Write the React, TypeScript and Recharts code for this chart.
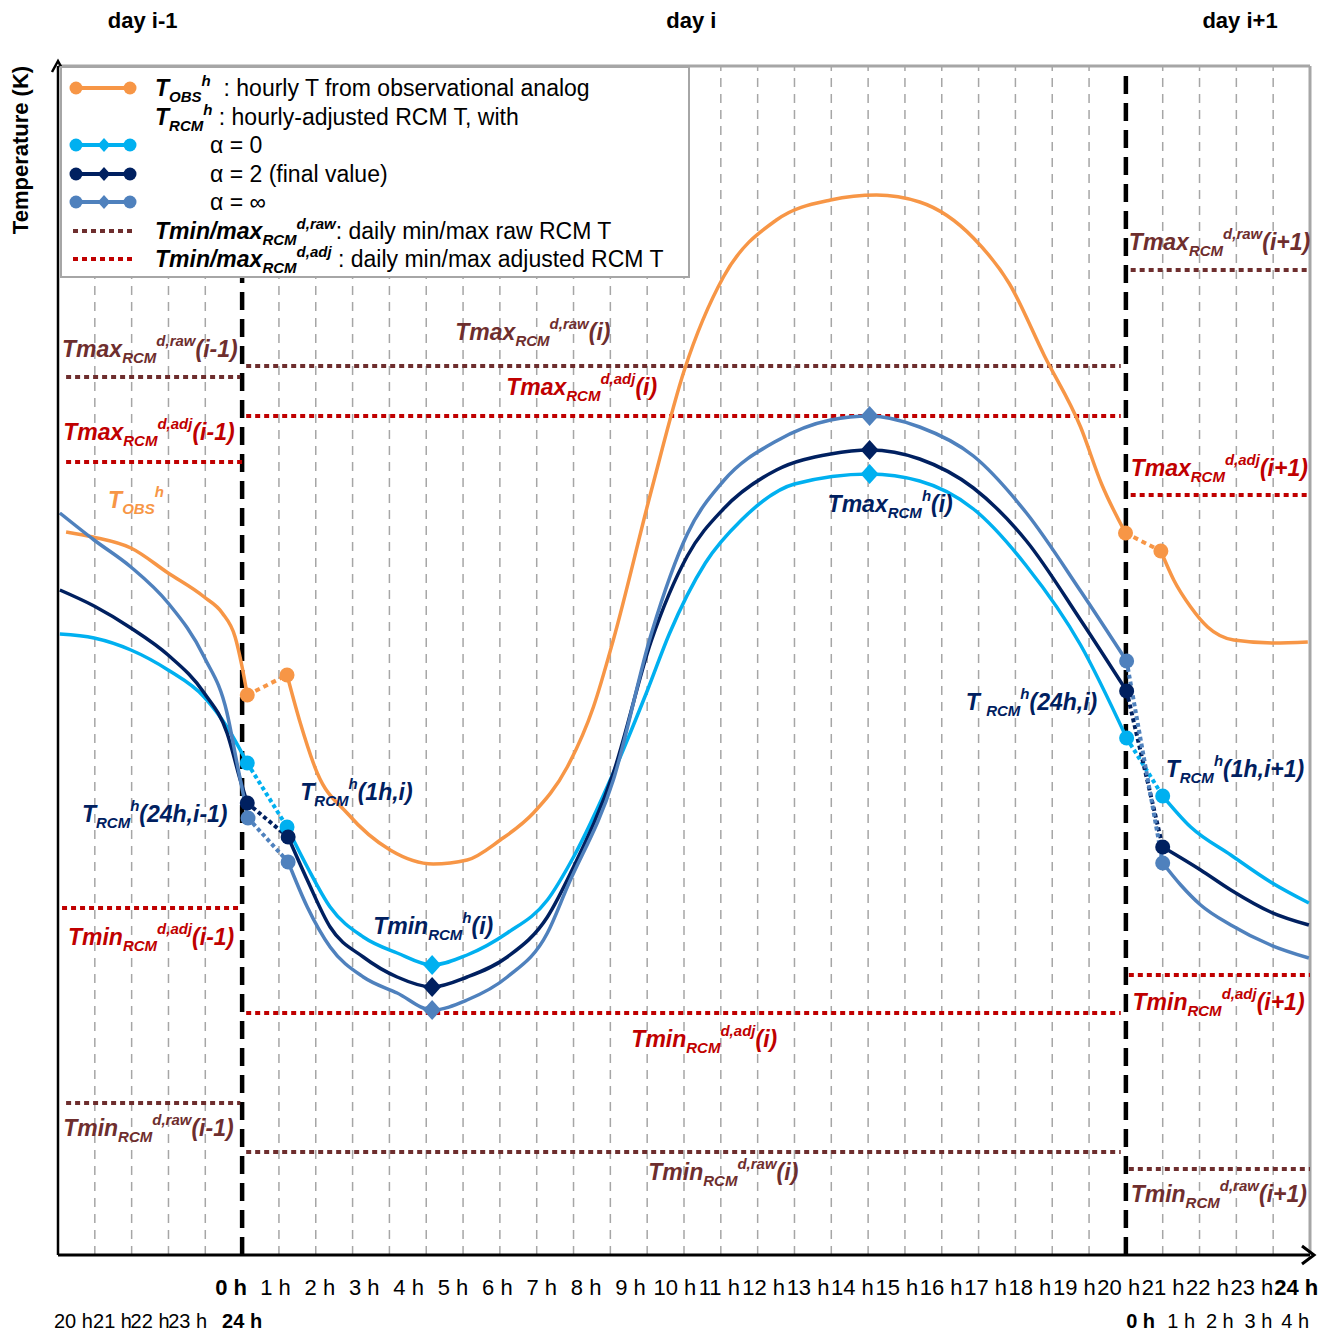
import React from "react";
import { LineChart, Line, XAxis, YAxis, ReferenceLine, ReferenceDot, Legend } from "recharts";

const FONT = "'Liberation Sans', Arial, sans-serif";
const NARROW = "'Liberation Sans Narrow', 'Arial Narrow', 'Liberation Sans', Arial, sans-serif";

const ORANGE = "#F79646";
const CYAN = "#00B0F0";
const NAVY = "#002060";
const STEEL = "#4F81BD";
const BROWN = "#6E2E2E";
const RED = "#C00000";
const GRID = "#A6A6A6";

type Pt = { h: number; v: number; m?: "c" | "d" };

// x = hour relative to 0 h of day i, y = temperature (arbitrary units)
const obsPrev: Pt[] = [
  { h: -4.78, v: 72.3 }, { h: -4.05, v: 71.8 }, { h: -3.02, v: 70.7 }, { h: -2.01, v: 68.2 },
  { h: -1.03, v: 65.8 }, { h: -0.54, v: 64.2 }, { h: -0.19, v: 61.8 }, { h: 0, v: 58.8 },
  { h: 0.14, v: 56.0, m: "c" },
];
const obsDay: Pt[] = [
  { h: 1.22, v: 58.0, m: "c" }, { h: 1.58, v: 53.2 }, { h: 2.04, v: 48.2 }, { h: 2.85, v: 44.2 },
  { h: 4.02, v: 40.5 }, { h: 5.19, v: 39.1 }, { h: 6.11, v: 39.5 }, { h: 7.01, v: 41.5 },
  { h: 7.91, v: 44.2 }, { h: 8.83, v: 48.8 }, { h: 9.54, v: 54.8 }, { h: 10.08, v: 61.5 },
  { h: 11.11, v: 76.4 }, { h: 12.01, v: 88.5 }, { h: 13.07, v: 97.8 }, { h: 14.51, v: 103.5 },
  { h: 15.98, v: 105.5 }, { h: 17.23, v: 106.0 }, { h: 18.4, v: 105.3 }, { h: 19.86, v: 101.7 },
  { h: 20.84, v: 97.1 }, { h: 21.79, v: 89.9 }, { h: 22.77, v: 82.8 }, { h: 23.34, v: 77.1 },
  { h: 23.99, v: 72.2, m: "c" },
];
const obsNext: Pt[] = [
  { h: 24.95, v: 70.4, m: "c" }, { h: 25.3, v: 67.5 }, { h: 25.76, v: 64.8 }, { h: 26.22, v: 62.8 },
  { h: 26.93, v: 61.5 }, { h: 28.02, v: 61.2 }, { h: 28.94, v: 61.3 },
];

const a0Prev: Pt[] = [
  { h: -4.95, v: 62.1 }, { h: -4.02, v: 61.7 }, { h: -3.02, v: 60.5 }, { h: -2.01, v: 58.5 },
  { h: -1.03, v: 55.8 }, { h: -0.41, v: 52.8 }, { h: 0.14, v: 49.2, m: "c" },
];
const a0Day: Pt[] = [
  { h: 1.22, v: 42.8, m: "c" }, { h: 1.77, v: 38.8 }, { h: 2.39, v: 34.8 }, { h: 3.29, v: 31.8 },
  { h: 4.21, v: 30.2 }, { h: 5.16, v: 29.0, m: "d" }, { h: 6.11, v: 30.0 }, { h: 7.2, v: 32.2 },
  { h: 8.29, v: 35.5 }, { h: 9.0, v: 39.8 }, { h: 10.08, v: 48.2 }, { h: 11.01, v: 56.5 },
  { h: 11.6, v: 62.1 }, { h: 12.58, v: 69.2 }, { h: 13.56, v: 73.5 }, { h: 15.0, v: 77.1 },
  { h: 17.04, v: 78.1, m: "d" }, { h: 18.4, v: 77.4 }, { h: 19.86, v: 74.6 }, { h: 21.3, v: 68.9 },
  { h: 22.77, v: 61.0 }, { h: 24.02, v: 51.7, m: "c" },
];
const a0Next: Pt[] = [
  { h: 25.0, v: 45.9, m: "c" }, { h: 25.76, v: 42.8 }, { h: 26.85, v: 40.0 }, { h: 27.93, v: 37.3 },
  { h: 28.97, v: 35.2 },
];

const a2Prev: Pt[] = [
  { h: -4.95, v: 66.5 }, { h: -4.02, v: 64.9 }, { h: -3.02, v: 62.7 }, { h: -2.01, v: 60.0 },
  { h: -1.03, v: 56.2 }, { h: -0.41, v: 52.2 }, { h: -0.05, v: 47.5 }, { h: 0.14, v: 45.2, m: "c" },
];
const a2Day: Pt[] = [
  { h: 1.25, v: 41.8, m: "c" }, { h: 1.77, v: 37.5 }, { h: 2.39, v: 32.8 }, { h: 3.29, v: 29.8 },
  { h: 4.21, v: 27.8 }, { h: 5.16, v: 26.8, m: "d" }, { h: 6.11, v: 27.8 }, { h: 7.2, v: 29.8 },
  { h: 8.29, v: 33.8 }, { h: 9.0, v: 38.8 }, { h: 10.08, v: 48.2 }, { h: 11.11, v: 61.4 },
  { h: 12.09, v: 69.9 }, { h: 13.07, v: 74.6 }, { h: 14.51, v: 78.5 }, { h: 15.98, v: 80.1 },
  { h: 17.04, v: 80.5, m: "d" }, { h: 18.4, v: 79.6 }, { h: 19.86, v: 76.7 }, { h: 21.3, v: 71.4 },
  { h: 22.77, v: 63.5 }, { h: 24.02, v: 56.4, m: "c" },
];
const a2Next: Pt[] = [
  { h: 25.0, v: 40.8, m: "c" }, { h: 26.03, v: 38.5 }, { h: 26.85, v: 36.5 }, { h: 27.93, v: 34.3 },
  { h: 28.97, v: 33.0 },
];

const aInfPrev: Pt[] = [
  { h: -4.95, v: 74.2 }, { h: -4.02, v: 71.5 }, { h: -3.02, v: 68.8 }, { h: -2.01, v: 65.2 },
  { h: -1.03, v: 59.8 }, { h: -0.41, v: 54.2 }, { h: -0.14, v: 49.2 }, { h: 0.16, v: 43.7, m: "c" },
];
const aInfDay: Pt[] = [
  { h: 1.25, v: 39.3, m: "c" }, { h: 1.77, v: 34.8 }, { h: 2.39, v: 30.8 }, { h: 3.29, v: 27.8 },
  { h: 4.21, v: 26.2 }, { h: 5.16, v: 24.5, m: "d" }, { h: 6.11, v: 25.5 }, { h: 7.2, v: 27.8 },
  { h: 8.29, v: 32.2 }, { h: 8.83, v: 36.8 }, { h: 10.08, v: 47.5 }, { h: 11.11, v: 62.1 },
  { h: 12.09, v: 72.1 }, { h: 13.07, v: 77.4 }, { h: 14.51, v: 81.4 }, { h: 15.98, v: 83.5 },
  { h: 17.04, v: 83.9, m: "d" }, { h: 18.4, v: 82.8 }, { h: 19.86, v: 79.9 }, { h: 21.3, v: 74.2 },
  { h: 22.77, v: 66.4 }, { h: 24.02, v: 59.4, m: "c" },
];
const aInfNext: Pt[] = [
  { h: 25.0, v: 39.2, m: "c" }, { h: 25.49, v: 37.0 }, { h: 26.03, v: 35.0 }, { h: 26.85, v: 33.0 },
  { h: 27.93, v: 31.0 }, { h: 28.97, v: 29.7 },
];

// daily min / max levels: [from hour, to hour, value]
const tmaxRaw = [[-4.78, -0.05, 87.8], [0.11, 23.86, 88.9], [24.13, 29, 98.5]];
const tmaxAdj = [[-4.78, 0.05, 79.3], [0.11, 23.86, 83.9], [24.13, 29, 76.0]];
const tminAdj = [[-4.89, -0.05, 34.7], [0.11, 23.86, 24.2], [24.08, 29, 28.0]];
const tminRaw = [[-4.78, -0.05, 15.2], [0.11, 23.86, 10.3], [24.08, 29, 8.6]];

// tick labels
const dayTicks = [-2.7, 12.2, 27.1];
const dayLabels = ["day i-1", "day i", "day i+1"];
const row1Ticks = Array.from({ length: 25 }, (_, i) => i);
const row1Labels = row1Ticks.map((i) => `${i} h`);
const row2Ticks = [-4.58, -3.52, -2.5, -1.48, 0, 24.4, 25.5, 26.55, 27.6, 28.6];
const row2Labels = ["20 h", "21 h", "22 h", "23 h", "24 h", "0 h", "1 h", "2 h", "3 h", "4 h"];
const gridHours = Array.from({ length: 33 }, (_, i) => i - 4).filter((k) => k !== 0 && k !== 24);

type Ann = { h: number; v: number; color: string; main: string; sub: string; sup: string; tail: string };
const annotations: Ann[] = [
  { h: 24.08, v: 100.5, color: BROWN, main: "Tmax", sub: "RCM", sup: "d,raw", tail: "(i+1)" },
  { h: 5.79, v: 91.5, color: BROWN, main: "Tmax", sub: "RCM", sup: "d,raw", tail: "(i)" },
  { h: -4.89, v: 89.8, color: BROWN, main: "Tmax", sub: "RCM", sup: "d,raw", tail: "(i-1)" },
  { h: 7.17, v: 86.0, color: RED, main: "Tmax", sub: "RCM", sup: "d,adj", tail: "(i)" },
  { h: -4.86, v: 81.5, color: RED, main: "Tmax", sub: "RCM", sup: "d,adj", tail: "(i-1)" },
  { h: 24.13, v: 77.9, color: RED, main: "Tmax", sub: "RCM", sup: "d,adj", tail: "(i+1)" },
  { h: -3.64, v: 74.7, color: ORANGE, main: "T", sub: "OBS", sup: "h", tail: "" },
  { h: 15.9, v: 74.3, color: NAVY, main: "Tmax", sub: "RCM", sup: "h", tail: "(i)" },
  { h: 19.65, v: 54.5, color: NAVY, main: "T ", sub: "RCM", sup: "h", tail: "(24h,i)" },
  { h: 25.08, v: 47.8, color: NAVY, main: "T", sub: "RCM", sup: "h", tail: "(1h,i+1)" },
  { h: 1.58, v: 45.5, color: NAVY, main: "T", sub: "RCM", sup: "h", tail: "(1h,i)" },
  { h: -4.35, v: 43.3, color: NAVY, main: "T", sub: "RCM", sup: "h", tail: "(24h,i-1)" },
  { h: 3.56, v: 32.1, color: NAVY, main: "Tmin", sub: "RCM", sup: "h", tail: "(i)" },
  { h: -4.73, v: 31.0, color: RED, main: "Tmin", sub: "RCM", sup: "d,adj", tail: "(i-1)" },
  { h: 24.18, v: 24.5, color: RED, main: "Tmin", sub: "RCM", sup: "d,adj", tail: "(i+1)" },
  { h: 10.57, v: 20.8, color: RED, main: "Tmin", sub: "RCM", sup: "d,adj", tail: "(i)" },
  { h: -4.86, v: 11.9, color: BROWN, main: "Tmin", sub: "RCM", sup: "d,raw", tail: "(i-1)" },
  { h: 11.03, v: 7.5, color: BROWN, main: "Tmin", sub: "RCM", sup: "d,raw", tail: "(i)" },
  { h: 24.13, v: 5.3, color: BROWN, main: "Tmin", sub: "RCM", sup: "d,raw", tail: "(i+1)" },
];

const series = [
  { key: "obs", color: ORANGE, prev: obsPrev, day: obsDay, next: obsNext, dash: "5 4" },
  { key: "a0", color: CYAN, prev: a0Prev, day: a0Day, next: a0Next, dash: "4 3" },
  { key: "a2", color: NAVY, prev: a2Prev, day: a2Day, next: a2Next, dash: "4 3" },
  { key: "ainf", color: STEEL, prev: aInfPrev, day: aInfDay, next: aInfNext, dash: "4 3" },
];

type LegendRow = {
  kind: "obs" | "none" | "rcm" | "level";
  color?: string;
  sym?: { main: string; sub: string; sup: string };
  text: string;
  indent?: boolean;
};
const legendRows: LegendRow[] = [
  { kind: "obs", color: ORANGE, sym: { main: "T", sub: "OBS", sup: "h" }, text: "  : hourly T from observational analog" },
  { kind: "none", sym: { main: "T", sub: "RCM", sup: "h" }, text: " : hourly-adjusted RCM T, with" },
  { kind: "rcm", color: CYAN, text: "α = 0", indent: true },
  { kind: "rcm", color: NAVY, text: "α = 2 (final value)", indent: true },
  { kind: "rcm", color: STEEL, text: "α = ∞", indent: true },
  { kind: "level", color: BROWN, sym: { main: "Tmin/max", sub: "RCM", sup: "d,raw" }, text: ": daily min/max raw RCM T" },
  { kind: "level", color: RED, sym: { main: "Tmin/max", sub: "RCM", sup: "d,adj" }, text: " : daily min/max adjusted RCM T" },
];

// chart-level rows so the label-only axes have something to scale
const labelRows = row1Ticks.map((t) => ({ t }));

const levelGroups = [
  { rows: tmaxRaw, color: BROWN, key: "tmaxRaw" },
  { rows: tmaxAdj, color: RED, key: "tmaxAdj" },
  { rows: tminAdj, color: RED, key: "tminAdj" },
  { rows: tminRaw, color: BROWN, key: "tminRaw" },
];

const diamond = (cx: number, cy: number, s: number) =>
  `M${cx},${cy - s}L${cx + s * 0.9},${cy}L${cx},${cy + s}L${cx - s * 0.9},${cy}Z`;

const makeDot = (color: string) => (p: any) => {
  const { cx, cy, payload, index } = p;
  if (payload && payload.m === "c") return <circle key={index} cx={cx} cy={cy} r={7.5} fill={color} />;
  if (payload && payload.m === "d") return <path key={index} d={diamond(cx, cy, 10)} fill={color} />;
  return <g key={index} />;
};

function RichText({ x, y, a }: { x: number; y: number; a: Ann }) {
  return (
    <text x={x} y={y} fill={a.color} fontFamily={FONT} fontWeight="bold" fontStyle="italic" fontSize={23} style={{ whiteSpace: "pre" }}>
      {a.main}
      <tspan fontSize={15} dy={6}>{a.sub}</tspan>
      <tspan fontSize={15} dy={-17}>{a.sup}</tspan>
      <tspan fontSize={23} dy={11}>{a.tail}</tspan>
    </text>
  );
}

function legendSample(r: LegendRow) {
  const y = 16;
  if (r.kind === "obs" || r.kind === "rcm") {
    return (
      <g>
        <line x1={8} x2={70} y1={y} y2={y} stroke={r.color} strokeWidth={4} />
        <circle cx={12} cy={y} r={6.5} fill={r.color} />
        <circle cx={66} cy={y} r={6.5} fill={r.color} />
        {r.kind === "rcm" && <path d={diamond(40, y, 7)} fill={r.color} />}
      </g>
    );
  }
  if (r.kind === "level") {
    return <line x1={9} x2={70} y1={y} y2={y} stroke={r.color} strokeWidth={4} strokeDasharray="5 4" />;
  }
  return null;
}

function LegendBox() {
  return (
    <div
      style={{
        width: 630,
        height: 212,
        boxSizing: "border-box",
        border: `2px solid ${GRID}`,
        background: "#fff",
        position: "relative",
        fontFamily: FONT,
        fontSize: 23,
        color: "#000",
      }}
    >
      {legendRows.map((r, i) => (
        <div key={i} style={{ position: "absolute", left: 0, top: 20 + i * 28.5 - 16, height: 32, width: 620 }}>
          <svg width={80} height={32} style={{ position: "absolute", left: 2, top: 0 }}>
            {legendSample(r)}
          </svg>
          <div style={{ position: "absolute", left: r.indent ? 148 : 93, top: 0, lineHeight: "32px", whiteSpace: "pre" }}>
            {r.sym && (
              <span style={{ fontWeight: "bold", fontStyle: "italic" }}>
                {r.sym.main}
                <span style={{ fontSize: 15, position: "relative", top: 6 }}>{r.sym.sub}</span>
                <span style={{ fontSize: 15, position: "relative", top: -10 }}>{r.sym.sup}</span>
              </span>
            )}
            {r.text}
          </div>
        </div>
      ))}
    </div>
  );
}

const findLabel = (ticks: number[], labels: string[], value: number) => {
  let best = 0;
  ticks.forEach((t, i) => {
    if (Math.abs(t - value) < Math.abs(ticks[best] - value)) best = i;
  });
  return labels[best];
};

const dayTick = (p: any) => (
  <text x={p.x} y={p.y} dy={-38} textAnchor="middle" fontFamily={FONT} fontWeight="bold" fontSize={22} fill="#000">
    {findLabel(dayTicks, dayLabels, p.payload.value)}
  </text>
);

const hourTick = (ticks: number[], labels: string[], dy: number, size: number) => (p: any) => {
  const label = findLabel(ticks, labels, p.payload.value);
  const bold = label === "0 h" || label === "24 h";
  return (
    <text x={p.x} y={p.y} dy={dy} textAnchor="middle" fontFamily={NARROW} fontWeight={bold ? "bold" : "normal"} fontSize={size} fill="#000">
      {label}
    </text>
  );
};

export default function App() {
  return (
    <div style={{ position: "absolute", left: 0, top: 0, background: "#fff", fontFamily: FONT }}>
      <LineChart width={1333} height={1332} data={labelRows} margin={{ top: 0, right: 23, bottom: 0, left: 0 }}>
        <XAxis xAxisId="h" type="number" dataKey="h" domain={[-5, 29]} allowDataOverflow hide height={0} />
        <XAxis
          xAxisId="days"
          orientation="top"
          type="number"
          dataKey="t"
          domain={[-5, 29]}
          allowDataOverflow
          ticks={dayTicks}
          interval={0}
          height={66}
          tickSize={0}
          tickMargin={0}
          tickLine={false}
          axisLine={{ stroke: GRID, strokeWidth: 3 }}
          tick={dayTick}
        />
        <XAxis
          xAxisId="r1"
          type="number"
          dataKey="t"
          domain={[-3.9, 24.31]}
          allowDataOverflow
          ticks={row1Ticks}
          interval={0}
          height={45}
          tickSize={0}
          tickMargin={0}
          tickLine={false}
          axisLine={{ stroke: "#000", strokeWidth: 3 }}
          tick={hourTick(row1Ticks, row1Labels, 40, 22)}
        />
        <XAxis
          xAxisId="r2"
          type="number"
          dataKey="t"
          domain={[-5, 29]}
          allowDataOverflow
          ticks={row2Ticks}
          interval={0}
          height={32}
          tickSize={0}
          tickMargin={0}
          tickLine={false}
          axisLine={false}
          tick={hourTick(row2Ticks, row2Labels, 28, 20)}
        />
        <YAxis
          yAxisId="y"
          type="number"
          domain={[0, 118.9]}
          allowDataOverflow
          width={58}
          tick={false}
          tickLine={false}
          axisLine={{ stroke: "#000", strokeWidth: 2.5 }}
          label={{
            content: (props: any) => {
              const vb = props.viewBox || { x: 0, y: 66 };
              return (
                <text
                  transform={`translate(${vb.x + 28}, ${vb.y + 84}) rotate(-90)`}
                  textAnchor="middle"
                  fontFamily={FONT}
                  fontWeight="bold"
                  fontSize={22}
                  fill="#000"
                >
                  Temperature (K)
                </text>
              );
            },
          }}
        />

        {gridHours.map((k) => (
          <ReferenceLine key={`g${k}`} xAxisId="h" yAxisId="y" x={k} stroke={GRID} strokeWidth={1.5} strokeDasharray="9 7" />
        ))}
        <ReferenceLine xAxisId="h" yAxisId="y" x={29} stroke={GRID} strokeWidth={3} />
        <ReferenceLine xAxisId="h" yAxisId="y" x={0} stroke="#000" strokeWidth={4.5} strokeDasharray="18 9" />
        <ReferenceLine xAxisId="h" yAxisId="y" x={24} stroke="#000" strokeWidth={4.5} strokeDasharray="18 9" />

        {levelGroups.map((g) =>
          g.rows.map((r, i) => (
            <ReferenceLine
              key={`${g.key}${i}`}
              xAxisId="h"
              yAxisId="y"
              segment={[{ x: r[0], y: r[2] }, { x: r[1], y: r[2] }]}
              stroke={g.color}
              strokeWidth={4}
              strokeDasharray="5 4"
            />
          ))
        )}

        {series.map((s) => [
          <Line key={`${s.key}p`} xAxisId="h" yAxisId="y" data={s.prev} dataKey="v" type="monotone" stroke={s.color} strokeWidth={3.5} dot={makeDot(s.color)} activeDot={false} isAnimationActive={false} />,
          <Line key={`${s.key}l1`} xAxisId="h" yAxisId="y" data={[s.prev[s.prev.length - 1], s.day[0]]} dataKey="v" type="linear" stroke={s.color} strokeWidth={4} strokeDasharray={s.dash} dot={false} activeDot={false} isAnimationActive={false} />,
          <Line key={`${s.key}d`} xAxisId="h" yAxisId="y" data={s.day} dataKey="v" type="monotone" stroke={s.color} strokeWidth={3.5} dot={makeDot(s.color)} activeDot={false} isAnimationActive={false} />,
          <Line key={`${s.key}l2`} xAxisId="h" yAxisId="y" data={[s.day[s.day.length - 1], s.next[0]]} dataKey="v" type="linear" stroke={s.color} strokeWidth={4} strokeDasharray={s.dash} dot={false} activeDot={false} isAnimationActive={false} />,
          <Line key={`${s.key}n`} xAxisId="h" yAxisId="y" data={s.next} dataKey="v" type="monotone" stroke={s.color} strokeWidth={3.5} dot={makeDot(s.color)} activeDot={false} isAnimationActive={false} />,
        ])}

        {annotations.map((a, i) => (
          <ReferenceDot
            key={`a${i}`}
            xAxisId="h"
            yAxisId="y"
            x={a.h}
            y={a.v}
            r={0}
            shape={(p: any) => <RichText x={p.cx} y={p.cy} a={a} />}
          />
        ))}

        <ReferenceDot
          xAxisId="h"
          yAxisId="y"
          x={29}
          y={0}
          r={0}
          shape={(p: any) => (
            <path d={`M${p.cx - 8},${p.cy - 9}L${p.cx + 4},${p.cy}L${p.cx - 8},${p.cy + 9}`} fill="none" stroke="#000" strokeWidth={3} />
          )}
        />
        <ReferenceDot
          xAxisId="h"
          yAxisId="y"
          x={-5}
          y={118.9}
          r={0}
          shape={(p: any) => (
            <path d={`M${p.cx - 6},${p.cy + 6}L${p.cx},${p.cy - 5}L${p.cx + 6},${p.cy + 6}`} fill="none" stroke="#000" strokeWidth={2.5} />
          )}
        />

        <Legend
          layout="vertical"
          align="center"
          verticalAlign="middle"
          wrapperStyle={{ left: 60, top: 66, width: 630, height: 212 }}
          content={() => <LegendBox />}
        />
      </LineChart>
    </div>
  );
}
